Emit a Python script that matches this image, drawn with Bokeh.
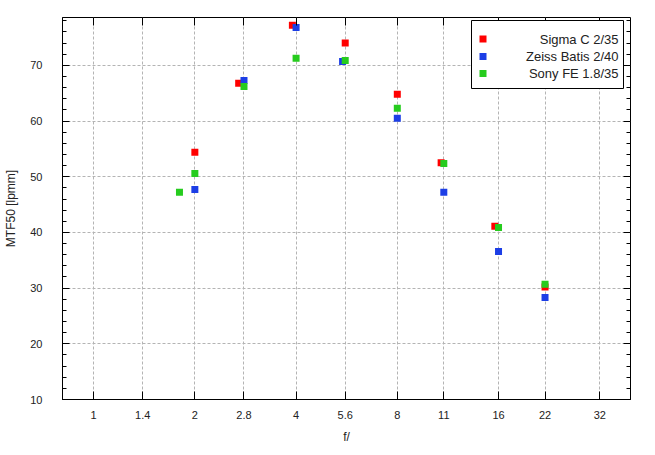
from bokeh.plotting import figure
from bokeh.models import (Range1d, FixedTicker, SingleIntervalTicker, LinearAxis, LogAxis,
                          CustomJSTickFormatter, BoxAnnotation, Label)
from bokeh.embed import file_html
from bokeh.resources import INLINE

tick_f = [1, 1.4, 2, 2.8, 4, 5.6, 8, 11, 16, 22, 32]

sigma_f = [2, 2.7, 3.9, 5.6, 8, 10.8, 15.6, 22]
sigma_v = [54.4, 66.8, 77.2, 74.0, 64.8, 52.5, 41.1, 30.2]
zeiss_f = [2, 2.8, 4, 5.5, 8, 11, 16, 22]
zeiss_v = [47.7, 67.3, 76.8, 70.7, 60.5, 47.2, 36.6, 28.3]
sony_f = [1.8, 2, 2.8, 4, 5.6, 8, 11, 16, 22]
sony_v = [47.2, 50.6, 66.2, 71.3, 70.9, 62.3, 52.4, 40.9, 30.7]

names = ["Sigma C 2/35", "Zeiss Batis 2/40", "Sony FE 1.8/35"]
colors = ["#ff0000", "#1c3ee6", "#26cc1e"]

FONT = "Liberation Sans"

p = figure(width=655, height=455, x_axis_type="log",
           x_range=Range1d(0.808, 39.5), y_range=Range1d(10, 78.6),
           output_backend="svg", toolbar_location=None,
           min_border_left=62, min_border_right=25, min_border_top=17, min_border_bottom=56)
p.outline_line_color = "black"
p.outline_line_width = 1
p.background_fill_color = "white"
p.border_fill_color = "white"

xt = FixedTicker(ticks=tick_f, minor_ticks=[])
yt = SingleIntervalTicker(interval=10, num_minor_ticks=5)
fmt = CustomJSTickFormatter(code="return tick.toString();")
blank = CustomJSTickFormatter(code="return '';")

xa = p.xaxis[0]
xa.ticker = xt
xa.formatter = fmt
xa.axis_label = "f/"
ya = p.yaxis[0]
ya.ticker = yt
ya.axis_label = "MTF50 [lpmm]"

for ax in (xa, ya):
    ax.axis_line_color = "black"
    ax.major_tick_line_color = "black"
    ax.minor_tick_line_color = "black"
    ax.major_tick_out = 0
    ax.minor_tick_out = 0
    ax.major_label_text_font = FONT
    ax.major_label_text_font_size = "11px"
    ax.major_label_text_color = "#222222"
    ax.axis_label_text_font = FONT
    ax.axis_label_text_font_size = "12px"
    ax.axis_label_text_font_style = "normal"
    ax.axis_label_text_color = "#222222"
xa.major_tick_in = 8
ya.major_tick_in = 7
ya.minor_tick_in = 4
xa.major_label_standoff = 11
xa.axis_label_standoff = 8
ya.major_label_standoff = 20
ya.axis_label_standoff = 9

top = LogAxis(ticker=xt, formatter=blank, major_tick_in=8, major_tick_out=0,
              axis_line_color=None, major_label_standoff=0)
right = LinearAxis(ticker=yt, formatter=blank, major_tick_in=7, major_tick_out=0,
                   minor_tick_in=4, minor_tick_out=0, axis_line_color=None, major_label_standoff=0)
p.add_layout(top, "above")
p.add_layout(right, "right")

for g in (p.xgrid[0], p.ygrid[0]):
    g.grid_line_color = "#b4b4b4"
    g.grid_line_dash = "3 2"
    g.grid_line_width = 1
p.ygrid[0].ticker = SingleIntervalTicker(interval=10)

for fx, vy, c in [(sigma_f, sigma_v, colors[0]), (zeiss_f, zeiss_v, colors[1]), (sony_f, sony_v, colors[2])]:
    p.scatter(fx, vy, marker="square", size=7, fill_color=c, line_color=None)

# legend drawn in screen units (x from frame left, y from frame bottom)
p.add_layout(BoxAnnotation(left=409, right=561, top=379, bottom=311,
                           left_units="screen", right_units="screen",
                           top_units="screen", bottom_units="screen",
                           fill_color="white", fill_alpha=1,
                           line_color="black", line_width=1, line_alpha=1))
row_y = [360.5, 343, 326]
for n, c, yy in zip(names, colors, row_y):
    p.add_layout(BoxAnnotation(left=417, right=424, top=yy + 3.5, bottom=yy - 3.5,
                               left_units="screen", right_units="screen",
                               top_units="screen", bottom_units="screen",
                               fill_color=c, fill_alpha=1, line_color=None))
    p.add_layout(Label(x=556, y=yy, x_units="screen", y_units="screen", text=n,
                       text_align="right", text_baseline="middle",
                       text_font=FONT, text_font_size="13px", text_color="#222222"))

open("out.html", "w").write(file_html(p, INLINE))
